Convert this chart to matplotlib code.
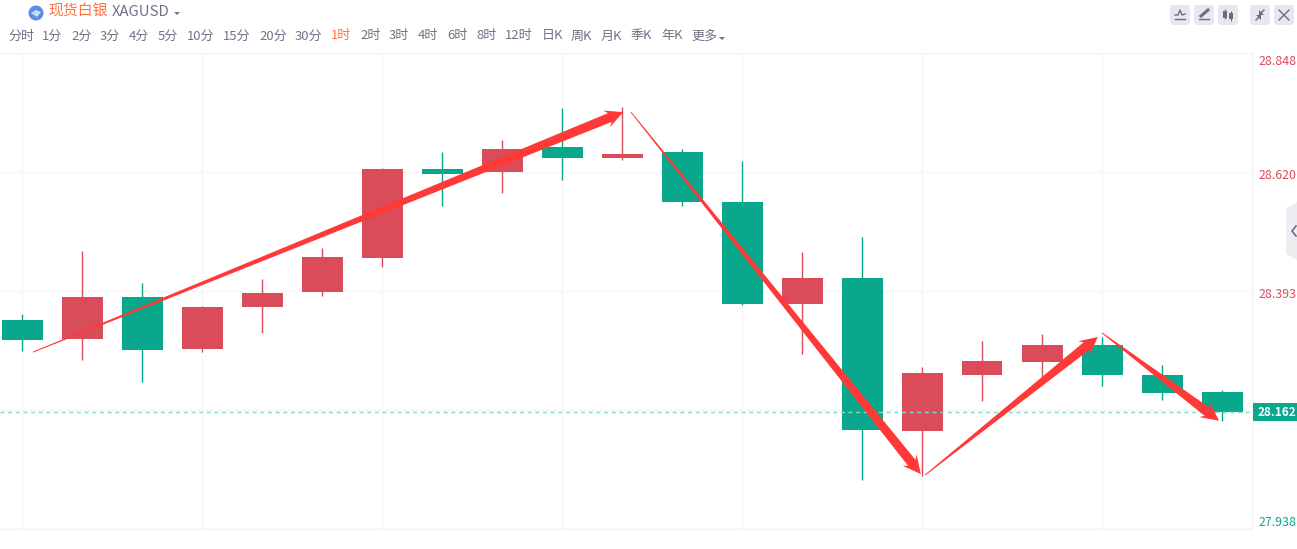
import matplotlib
matplotlib.use("Agg")
import matplotlib.pyplot as plt
import numpy as np
from matplotlib.patches import Circle, FancyBboxPatch, Polygon, Rectangle
from matplotlib.transforms import IdentityTransform, ScaledTranslation

plt.rcParams['font.family'] = ['Noto Sans CJK SC', 'DejaVu Sans']

# candle values
opens = [28.338, 28.301, 28.382, 28.282, 28.362, 28.391, 28.456, 28.626, 28.620, 28.668, 28.647,
         28.659, 28.563, 28.368, 28.418, 28.125, 28.232, 28.257, 28.290, 28.232, 28.200]
closes = [28.299, 28.382, 28.280, 28.362, 28.389, 28.458, 28.626, 28.617, 28.664, 28.647, 28.655,
          28.563, 28.368, 28.418, 28.127, 28.236, 28.259, 28.290, 28.232, 28.198, 28.162]
highs = [28.349, 28.469, 28.408, 28.364, 28.416, 28.475, 28.628, 28.659, 28.682, 28.743, 28.745,
         28.664, 28.641, 28.468, 28.496, 28.248, 28.297, 28.311, 28.305, 28.252, 28.204]
lows = [28.278, 28.261, 28.219, 28.276, 28.313, 28.383, 28.439, 28.555, 28.580, 28.605, 28.643,
        28.555, 28.366, 28.273, 28.032, 28.039, 28.183, 28.229, 28.211, 28.185, 28.145]

price_ticks = [28.848, 28.620, 28.393, 28.166, 27.938]
price_labels = ['28.848', '28.620', '28.393', '', '27.938']
last_price = 28.162

# arrows drawn over the candles: (x0, x1), (y0, y1) in candle index / price
arrow_xs = [(0.18, 10.02), (10.15, 14.98), (15.05, 17.93), (18.0, 19.95)]
arrow_ys = [(28.276, 28.735), (28.735, 28.043), (28.041, 28.305), (28.313, 28.145)]

periods = ['分时', '1分', '2分', '3分', '4分', '5分', '10分', '15分', '20分', '30分', '1时', '2时',
           '3时', '4时', '6时', '8时', '12时', '日K', '周K', '月K', '季K', '年K', '更多']
period_left = [8, 42, 71, 100, 129, 158, 187, 223, 259, 295, 331, 360,
               389, 418, 447, 476, 505, 542, 571, 601, 631, 661, 691]

RED = '#DB4C5A'
GREEN = '#09A88D'
ARROW = '#FF3838'
GREY = '#6E7385'
ORANGE = '#FF7043'

W, H = 1297, 549
fig = plt.figure(figsize=(W / 100, H / 100), dpi=100, facecolor='white')

# main price axes, x is candle index with a 60 px step
ax = fig.add_axes([0, (H - 529) / H, 1252 / W, (529 - 53) / H])
ax.set_xlim(-22 / 60, 1230 / 60)
ax.set_ylim(27.938, 28.848)
ax.set_xticks(range(0, 21, 3))
ax.set_xticklabels([])
ax.set_yticks(price_ticks)
ax.set_yticklabels(price_labels, fontsize=8.9)
ax.yaxis.tick_right()
ax.tick_params(length=0, pad=4.6)
ax.grid(True, color='#F6F6F7', lw=1)
ax.set_axisbelow(True)
for name, sp in ax.spines.items():
    sp.set_color('#F3F3F5')
    sp.set_linewidth(1)
    sp.set_visible(name != 'left')

# the upper price labels sit 2 px under their grid lines
nudge = ScaledTranslation(0, -1.44 / 72, fig.dpi_scale_trans)
for lab, price in zip(ax.get_yticklabels(), price_ticks):
    lab.set_color(GREEN if price < 28 else RED)
    if price > 28:
        lab.set_transform(lab.get_transform() + nudge)
ax.get_yticklabels()[0].set_va('top')
ax.get_yticklabels()[-1].set_va('bottom')

x = np.arange(len(opens))
o = np.array(opens)
c = np.array(closes)
colors = [RED if up else GREEN for up in c >= o]
ax.vlines(x, lows, highs, colors=colors, lw=1, zorder=2)
ax.bar(x, np.abs(c - o), bottom=np.minimum(o, c), width=41 / 60, color=colors, zorder=3)
ax.axhline(last_price, color='#84DDCC', lw=1, ls=(0, (3, 2.5)), zorder=4)


def tapered_arrow(p0, p1, tail=0.9, shaft=9.5, head_w=18, head_l=18):
    # thin at the tail, widening to the head, worked out in screen pixels
    p0 = ax.transData.transform(p0)
    p1 = ax.transData.transform(p1)
    d = p1 - p0
    length = np.hypot(*d)
    u = d / length
    n = np.array([-u[1], u[0]])
    neck = p1 - u * head_l * 0.8
    barb = p1 - u * head_l
    pts = [p0 + n * tail / 2, neck + n * shaft / 2, barb + n * head_w / 2, p1,
           barb - n * head_w / 2, neck - n * shaft / 2, p0 - n * tail / 2]
    patch = Polygon(pts, closed=True, fc=ARROW, ec='none', transform=IdentityTransform(), zorder=5)
    ax.add_patch(patch)


for xs, ys in zip(arrow_xs, arrow_ys):
    tapered_arrow((xs[0], ys[0]), (xs[1], ys[1]))

# overlay in pixel coordinates for the page furniture around the chart
ov = fig.add_axes([0, 0, 1, 1], facecolor='none')
ov.set_xlim(0, W)
ov.set_ylim(H, 0)
ov.axis('off')

ov.add_patch(Circle((36, 13), 7.5, fc='#5B8DE8', ec='none'))
ov.add_patch(Polygon([(31, 13), (36, 10), (41, 12), (37, 17)], fc='#C9DAF8', ec='none'))
ov.text(48.5, 12, '现货白银', color=ORANGE, fontsize=10.7, va='center', ha='left')
ov.text(112, 12, 'XAGUSD', color=GREY, fontsize=10.7, va='center', ha='left')
ov.add_patch(Polygon([(174, 12), (180, 12), (177, 15)], fc=GREY, ec='none'))

for label, left in zip(periods, period_left):
    ov.text(left, 36, label, color=ORANGE if label == '1时' else GREY,
            fontsize=9.4, va='center', ha='left')
ov.add_patch(Polygon([(719, 37), (725, 37), (722, 40)], fc=GREY, ec='none'))

# toolbar buttons
for left in [1170, 1194, 1218, 1250, 1274]:
    ov.add_patch(FancyBboxPatch((left + 2, 7), 16, 16, boxstyle='round,pad=2,rounding_size=4',
                                fc='#E6E8EF', ec='none'))
ig = '#6A6E80'
ov.plot([1175, 1185], [19, 19], color=ig, lw=1)
ov.plot([1175, 1178, 1180, 1182, 1185], [15, 15, 10, 15, 14], color=ig, lw=1)
ov.plot([1199, 1209], [19, 19], color=ig, lw=1)
ov.plot([1201, 1208], [16, 10], color=ig, lw=2.2)
ov.vlines([1225, 1231], [9, 11], [19, 21], color=ig, lw=0.8)
ov.add_patch(Rectangle((1223, 11), 4, 7, fc=ig, ec='none'))
ov.add_patch(Rectangle((1229, 13), 4, 6, fc=ig, ec='none'))
ov.plot([1256, 1259], [20, 17], color=ig, lw=1)
ov.plot([1261, 1264], [13, 10], color=ig, lw=1)
ov.add_patch(Polygon([(1256, 15), (1261, 15), (1261, 20)], fc=ig, ec='none'))
ov.add_patch(Polygon([(1259, 10), (1259, 15), (1264, 15)], fc=ig, ec='none'))
ov.plot([1279, 1289], [10, 20], color=ig, lw=1)
ov.plot([1279, 1289], [20, 10], color=ig, lw=1)

# collapse handle on the right edge
ov.add_patch(Polygon([(1297, 202), (1286, 208), (1286, 254), (1297, 260)], fc='#EDEEF1', ec='none'))
ov.plot([1296, 1292, 1296], [226, 231, 236], color=ig, lw=1.2)

# last price tag
ov.add_patch(Rectangle((1253, 403), 44, 18, fc=GREEN, ec='none'))
ov.text(1258, 412.5, f'{last_price:.3f}', color='white', fontsize=8.5, fontweight='bold',
        va='center', ha='left')

fig.savefig('out.png', dpi=100)
